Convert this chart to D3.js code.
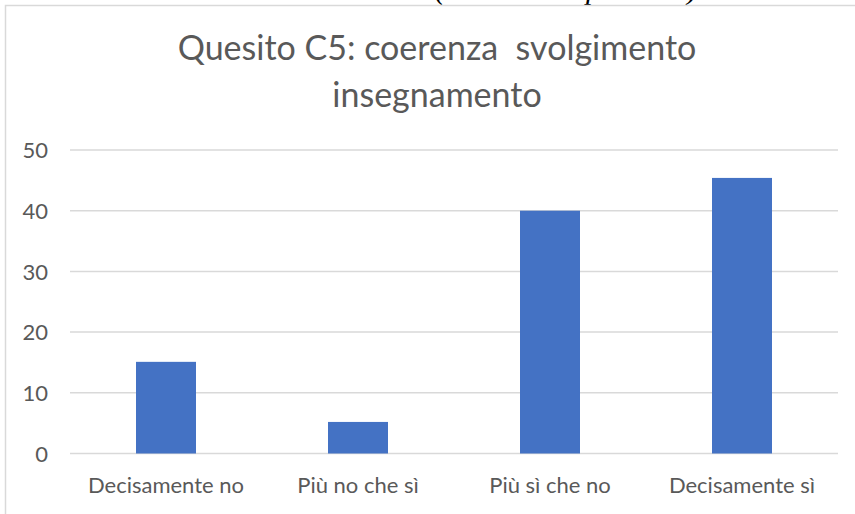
<!DOCTYPE html>
<html>
<head>
<meta charset="UTF-8">
<title>Quesito C5: coerenza svolgimento insegnamento</title>
<script src="https://d3js.org/d3.v7.min.js"></script>
<style>
    body {
        margin: 0;
        background-color: #fff;
    }
    svg text {
        font-family: Lato, "Open Sans", sans-serif;
        fill: #595959;
        white-space: pre;
    }
</style>
</head>
<body>
<svg id="main" width="855" height="514"></svg>
<script>
    // data
    var categories = ["Decisamente no", "Più no che sì", "Più sì che no", "Decisamente sì"];
    var values = [15.1, 5.2, 40.0, 45.4];
    var yTicks = [0, 10, 20, 30, 40, 50];
    var titleLines = ["Quesito C5: coerenza  svolgimento", "insegnamento"];
    var caption = "(valori assoluti e percentuali)";

    var svg = d3.select("#main");

    // caption of the page above, cut off by the picture edge
    svg.append("text")
        .attr("x", 435)
        .attr("y", -1.5)
        .attr("textLength", 262)
        .style("font-family", "'Liberation Serif', serif")
        .style("font-style", "italic")
        .style("font-size", "30px")
        .style("fill", "#000")
        .text(caption);

    // chart area border (runs off to the right and bottom)
    svg.append("rect")
        .attr("x", 5.5)
        .attr("y", 5.5)
        .attr("width", 900)
        .attr("height", 600)
        .attr("fill", "#fff")
        .attr("stroke", "#d9d9d9")
        .attr("stroke-width", 1.5);

    var x = d3.scaleBand()
        .domain(categories)
        .range([70, 838])
        .paddingInner(0.6875)
        .paddingOuter(0.34375);

    var y = d3.scaleLinear()
        .domain([0, 50])
        .range([453.5, 150]);

    // title
    svg.selectAll(".title")
        .data(titleLines)
        .enter()
        .append("text")
        .attr("class", "title")
        .attr("x", 437)
        .attr("y", (d, i) => 60 + i * 47)
        .attr("text-anchor", "middle")
        .style("font-size", "34px")
        .text(d => d);

    // gridlines
    svg.append("g")
        .selectAll("line")
        .data(yTicks)
        .enter()
        .append("line")
        .attr("x1", 70)
        .attr("x2", 838)
        .attr("y1", d => y(d))
        .attr("y2", d => y(d))
        .attr("stroke", "#d9d9d9")
        .attr("stroke-width", 1.5);

    // y axis (labels only)
    var yAxis = svg.append("g")
        .attr("transform", "translate(70,0)")
        .call(d3.axisLeft(y).tickValues(yTicks).tickSize(0).tickPadding(22));
    yAxis.select(".domain").remove();
    yAxis.selectAll("text")
        .style("font-size", "22px")
        .attr("dy", "0.35em");

    // bars
    svg.append("g")
        .selectAll("rect")
        .data(values)
        .enter()
        .append("rect")
        .attr("x", (d, i) => x(categories[i]))
        .attr("y", d => y(d))
        .attr("width", x.bandwidth())
        .attr("height", d => y(0) - y(d))
        .attr("fill", "#4472c4");

    // x axis (labels only)
    var xAxis = svg.append("g")
        .attr("transform", "translate(0," + y(0) + ")")
        .call(d3.axisBottom(x).tickSize(0).tickPadding(24));
    xAxis.select(".domain").remove();
    xAxis.selectAll("text")
        .style("font-size", "22px");
</script>
</body>
</html>
